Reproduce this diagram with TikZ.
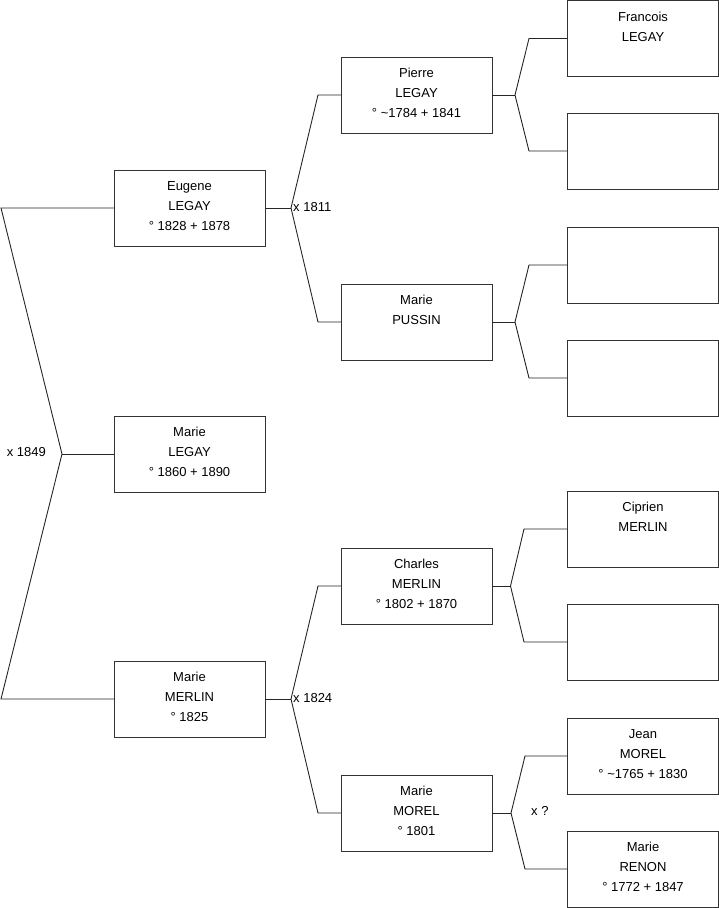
\documentclass[tikz,border=0pt]{standalone}
\usepackage{fontspec}
\setmainfont{Liberation Sans}
\begin{document}
\begin{tikzpicture}[x=1pt,y=-1pt,
  person/.style={draw=black!80,line width=0.9pt,rectangle,inner sep=0pt,outer sep=0pt,minimum width=151pt,minimum height=76pt},
  conn/.style={draw=black!85,line width=0.9pt},
  lbl/.style={inner sep=0pt,font=\fontsize{13}{15}\selectfont}]
\newcommand\ptxt[1]{\parbox[c][76pt][t]{151pt}{\centering\fontsize{13}{20}\selectfont\rule{0pt}{20.5pt}#1\par}}
\useasboundingbox (0,0) rectangle (719,908);
% column 1
\node[person] (eugene) at (189.5,208) {\ptxt{Eugene\\LEGAY\\° 1828 + 1878}};
\node[person] (legay) at (189.5,454) {\ptxt{Marie\\LEGAY\\° 1860 + 1890}};
\node[person] (merlin) at (189.5,699) {\ptxt{Marie\\MERLIN\\° 1825}};
% column 2
\node[person] (pierre) at (416.5,95) {\ptxt{Pierre\\LEGAY\\° \textasciitilde1784 + 1841}};
\node[person] (pussin) at (416.5,322) {\ptxt{Marie\\PUSSIN}};
\node[person] (charles) at (416.5,586) {\ptxt{Charles\\MERLIN\\° 1802 + 1870}};
\node[person] (morel) at (416.5,813) {\ptxt{Marie\\MOREL\\° 1801}};
% column 3
\node[person] (francois) at (643,38.5) {\ptxt{Francois\\LEGAY}};
\node[person] (e1) at (643,151) {\ptxt{}};
\node[person] (e2) at (643,265) {\ptxt{}};
\node[person] (e3) at (643,378) {\ptxt{}};
\node[person] (ciprien) at (643,529) {\ptxt{Ciprien\\MERLIN}};
\node[person] (e4) at (643,642) {\ptxt{}};
\node[person] (jean) at (643,756) {\ptxt{Jean\\MOREL\\° \textasciitilde1765 + 1830}};
\node[person] (renon) at (643,869) {\ptxt{Marie\\RENON\\° 1772 + 1847}};
% junction coordinates
\coordinate (c1a) at (1,208);
\coordinate (c1b) at (1,699);
\coordinate (f0) at (62,454);
\coordinate (f1) at (291,208);
\coordinate (b1a) at (318,95);
\coordinate (b1b) at (318,322);
\coordinate (f2) at (515,95);
\coordinate (b2a) at (529,38.5);
\coordinate (b2b) at (529,151);
\coordinate (f3) at (515,322);
\coordinate (b3a) at (529,265);
\coordinate (b3b) at (529,378);
\coordinate (f4) at (291,699);
\coordinate (b4a) at (318,586);
\coordinate (b4b) at (318,813);
\coordinate (f5) at (510.5,586);
\coordinate (b5a) at (524,529);
\coordinate (b5b) at (524,642);
\coordinate (f6) at (511,813);
\coordinate (b6a) at (525,756);
\coordinate (b6b) at (525,869);
% connectors
\draw[conn] (eugene.west) -- (c1a) -- (f0) -- (c1b) -- (merlin.west);
\draw[conn] (f0) -- (legay.west);
\draw[conn] (eugene.east) -- (f1);
\draw[conn] (pierre.west) -- (b1a) -- (f1) -- (b1b) -- (pussin.west);
\draw[conn] (merlin.east) -- (f4);
\draw[conn] (charles.west) -- (b4a) -- (f4) -- (b4b) -- (morel.west);
\draw[conn] (pierre.east) -- (f2);
\draw[conn] (francois.west) -- (b2a) -- (f2) -- (b2b) -- (e1.west);
\draw[conn] (pussin.east) -- (f3);
\draw[conn] (e2.west) -- (b3a) -- (f3) -- (b3b) -- (e3.west);
\draw[conn] (charles.east) -- (f5);
\draw[conn] (ciprien.west) -- (b5a) -- (f5) -- (b5b) -- (e4.west);
\draw[conn] (morel.east) -- (f6);
\draw[conn] (jean.west) -- (b6a) -- (f6) -- (b6b) -- (renon.west);
% marriage labels
\node[lbl,anchor=east] (m0) at (46,452) {x 1849};
\node[lbl,anchor=west] (m1) at (293,207) {x 1811};
\node[lbl,anchor=west] (m2) at (293,698) {x 1824};
\node[lbl,anchor=west] (m3) at (531,811) {x ?};
\end{tikzpicture}
\end{document}
